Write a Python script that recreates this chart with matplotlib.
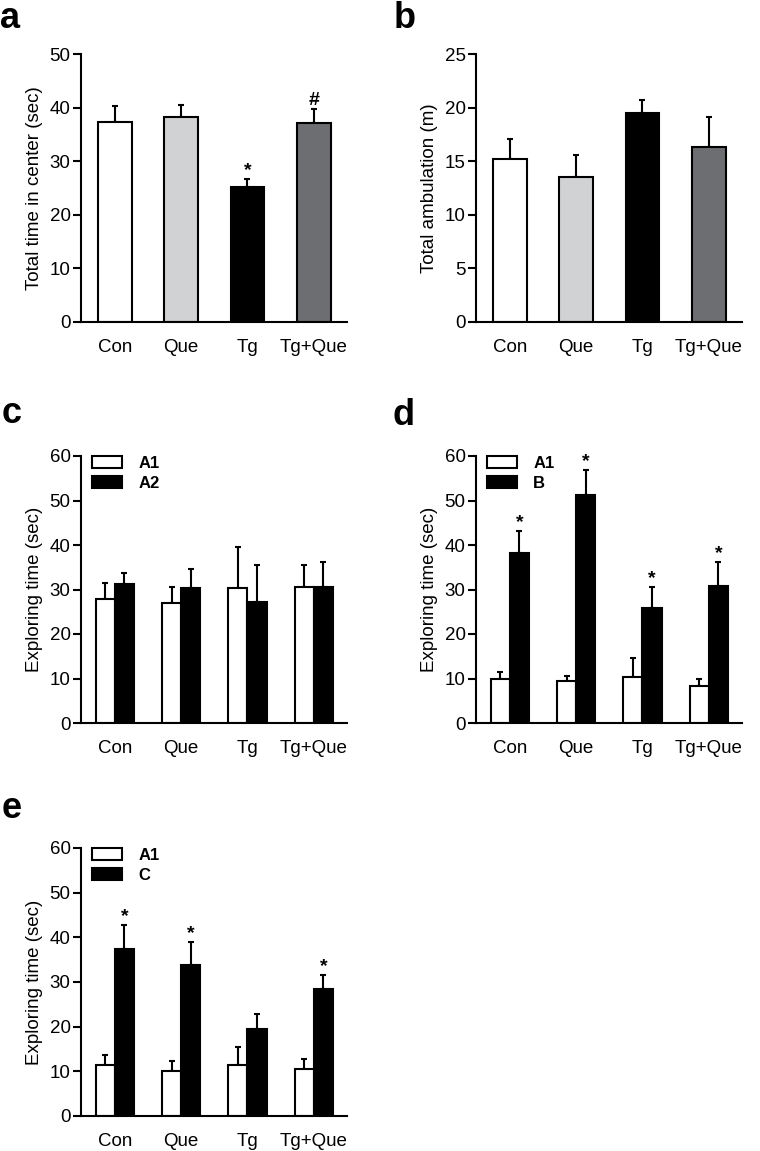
import numpy as np
import matplotlib
matplotlib.use('Agg')
import matplotlib.pyplot as plt
from matplotlib.patches import Patch

plt.rcParams['font.family'] = ['Liberation Sans', 'DejaVu Sans']

groups = ['Con', 'Que', 'Tg', 'Tg+Que']
group_colors = ['white', '#d1d2d4', 'black', '#6d6e71']

# panel a: total time in center
center_mean = [37.3, 38.3, 25.1, 37.1]
center_sem = [3.0, 2.2, 1.5, 2.6]
center_marks = ['', '', '*', '#']

# panel b: total ambulation
amb_mean = [15.2, 13.5, 19.5, 16.35]
amb_sem = [1.9, 2.1, 1.2, 2.8]

# panel c: A1 vs A2
c_a1_mean = [27.8, 27.05, 30.3, 30.6]
c_a1_sem = [3.6, 3.55, 9.15, 5.0]
c_a2_mean = [31.2, 30.3, 27.3, 30.5]
c_a2_sem = [2.6, 4.4, 8.2, 5.6]

# panel d: A1 vs B
d_a1_mean = [9.86, 9.5, 10.24, 8.37]
d_a1_sem = [1.64, 0.96, 4.46, 1.49]
d_b_mean = [38.3, 51.26, 25.85, 30.8]
d_b_sem = [4.8, 5.54, 4.75, 5.4]
d_marks = ['*', '*', '*', '*']

# panel e: A1 vs C
e_a1_mean = [11.5, 10.07, 11.5, 10.6]
e_a1_sem = [2.16, 2.23, 3.9, 2.16]
e_c_mean = [37.3, 33.9, 19.55, 28.4]
e_c_sem = [5.5, 5.0, 3.35, 3.1]
e_marks = ['*', '*', '', '*']

LW = 1.5
FS = 13.5


def style(ax, ymax, step, ylabel):
    ax.set_xlim(-0.51, 3.5)
    ax.set_ylim(0, ymax)
    ax.set_yticks(np.arange(0, ymax + 0.1, step))
    ax.set_xticks(range(len(groups)))
    ax.set_xticklabels(groups)
    for s in ['top', 'right']:
        ax.spines[s].set_visible(False)
    for s in ['left', 'bottom']:
        ax.spines[s].set_linewidth(LW)
    ax.tick_params(axis='y', direction='out', length=6, width=LW, pad=1.5, labelsize=FS)
    ax.tick_params(axis='x', length=0, pad=12.5, labelsize=FS)
    ax.set_ylabel(ylabel, fontsize=FS, labelpad=5)


def bars(ax, x, mean, sem, width, colors, marks=None):
    ax.bar(x, mean, width, color=colors, edgecolor='black', linewidth=LW, zorder=2)
    ax.errorbar(x, mean, yerr=[np.zeros(len(mean)), sem], fmt='none', ecolor='black',
                elinewidth=LW, capsize=2.5, capthick=LW, zorder=1)
    if marks:
        for xi, m, s, mk in zip(x, mean, sem, marks):
            if mk:
                ax.annotate(mk, (xi, m + s), xytext=(0, 0), textcoords='offset points',
                            ha='center', va='bottom', fontsize=14, fontweight='bold')


def legend(ax, labels):
    handles = [Patch(facecolor='white', edgecolor='black', linewidth=LW),
               Patch(facecolor='black', edgecolor='black', linewidth=LW)]
    leg = ax.legend(handles, labels, loc='upper left', bbox_to_anchor=(0.04, 1.0),
                    frameon=False, handlelength=1.85, handleheight=0.7, handletextpad=0.95,
                    labelspacing=0.3, borderpad=0, borderaxespad=0,
                    prop={'weight': 'bold', 'size': 12})
    return leg


def main():
    fig = plt.figure(figsize=(7.6, 11.51), dpi=100)
    W, H = 760, 1151

    def axes(left, top, right, bottom):
        return fig.add_axes([left / W, 1 - bottom / H, (right - left) / W, (bottom - top) / H])

    x = np.arange(len(groups))
    w1 = 0.51
    w2 = 0.29

    ax = axes(81, 54, 347, 322)
    bars(ax, x, center_mean, center_sem, w1, group_colors, center_marks)
    style(ax, 50, 10, 'Total time in center (sec)')

    ax = axes(476, 54, 742, 322)
    bars(ax, x, amb_mean, amb_sem, w1, group_colors)
    style(ax, 25, 5, 'Total ambulation (m)')

    ax = axes(81, 456, 347, 723)
    bars(ax, x - w2 / 2, c_a1_mean, c_a1_sem, w2, 'white')
    bars(ax, x + w2 / 2, c_a2_mean, c_a2_sem, w2, 'black')
    style(ax, 60, 10, 'Exploring time (sec)')
    legend(ax, ['A1', 'A2'])

    ax = axes(476, 456, 742, 723)
    bars(ax, x - w2 / 2, d_a1_mean, d_a1_sem, w2, 'white')
    bars(ax, x + w2 / 2, d_b_mean, d_b_sem, w2, 'black', d_marks)
    style(ax, 60, 10, 'Exploring time (sec)')
    legend(ax, ['A1', 'B'])

    ax = axes(81, 848, 347, 1116)
    bars(ax, x - w2 / 2, e_a1_mean, e_a1_sem, w2, 'white')
    bars(ax, x + w2 / 2, e_c_mean, e_c_sem, w2, 'black', e_marks)
    style(ax, 60, 10, 'Exploring time (sec)')
    legend(ax, ['A1', 'C'])

    for lab, px, py in [('a', 0, 28), ('b', 394, 28), ('c', 2, 423), ('d', 393, 425), ('e', 2, 818)]:
        fig.text(px / W, 1 - py / H, lab, fontsize=26, fontweight='bold', ha='left', va='baseline')

    fig.savefig('out.png', dpi=100)


if __name__ == '__main__':
    main()
